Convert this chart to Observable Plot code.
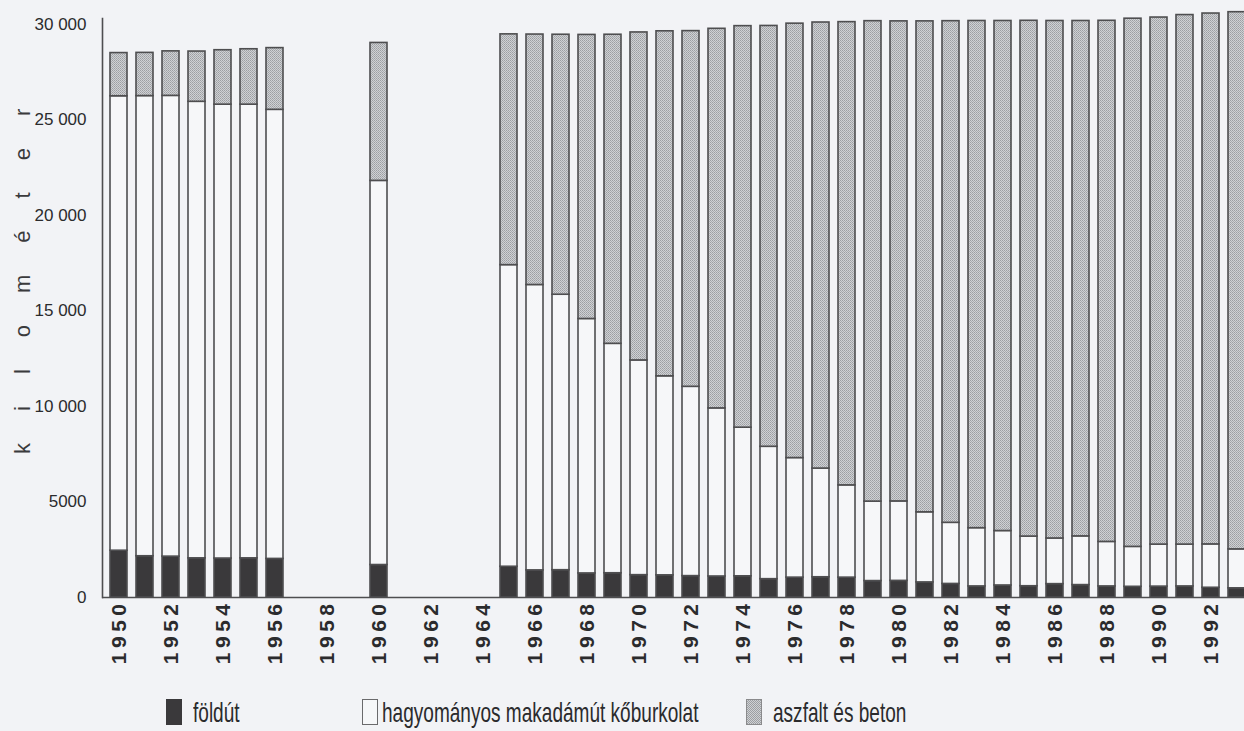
<!DOCTYPE html>
<html>
<head>
<meta charset="utf-8">
<script src="https://cdn.jsdelivr.net/npm/d3@7"></script>
<script src="https://cdn.jsdelivr.net/npm/@observablehq/plot@0.6"></script>
<style>
  html, body { margin: 0; padding: 0; background: #f2f3f6; overflow: hidden; }
  #chart svg { display: block; }
  #legend { position: relative; height: 46px; width: 1244px; font-family: "Liberation Sans", Arial, sans-serif; color: #2b2b2d; }
  .item { position: absolute; top: 14px; display: flex; align-items: flex-start; }
  .sw { width: 16px; height: 26px; box-sizing: border-box; flex: none; }
  .lab { display: inline-block; font-size: 28px; line-height: 26px; margin-top: 1px; transform: scaleX(0.68); transform-origin: left center; white-space: nowrap; }
</style>
</head>
<body>
<div id="chart"></div>
<div id="legend"></div>
<script>
// ---- data (km) ----
const years = [1950, 1951, 1952, 1953, 1954, 1955, 1956, 1960,
  1965, 1966, 1967, 1968, 1969, 1970, 1971, 1972, 1973, 1974, 1975, 1976, 1977, 1978, 1979,
  1980, 1981, 1982, 1983, 1984, 1985, 1986, 1987, 1988, 1989, 1990, 1991, 1992, 1993];
const foldut = [2450, 2160, 2140, 2050, 2040, 2050, 2020, 1700,
  1610, 1420, 1430, 1260, 1270, 1170, 1160, 1120, 1100, 1110, 960, 1040, 1060, 1040, 860,
  870, 790, 710, 580, 630, 590, 700, 650, 580, 560, 570, 580, 510, 480];
const makadam = [23790, 24090, 24120, 23900, 23760, 23750, 23510, 20110,
  15790, 14940, 14420, 13320, 12010, 11240, 10420, 9910, 8800, 7780, 6930, 6260, 5690, 4830, 4160,
  4160, 3670, 3200, 3050, 2850, 2600, 2390, 2550, 2330, 2090, 2200, 2190, 2270, 2040];
const aszfalt = [2260, 2260, 2330, 2630, 2850, 2900, 3230, 7220,
  12080, 13110, 13610, 14870, 16180, 17170, 18060, 18620, 19870, 21020, 22030, 22740, 23350, 24250, 25150,
  25130, 25700, 26260, 26550, 26700, 27000, 27090, 26980, 27280, 27650, 27590, 27720, 27790, 28120];
const categories = ["földút", "hagyományos makadámút kőburkolat", "aszfalt és beton"];
const yTicks = [0, 5000, 10000, 15000, 20000, 25000, 30000];
const yTickLabels = ["0", "5000", "10 000", "15 000", "20 000", "25 000", "30 000"];
const xTickYears = [1950, 1952, 1954, 1956, 1958, 1960, 1962, 1964, 1966, 1968, 1970,
  1972, 1974, 1976, 1978, 1980, 1982, 1984, 1986, 1988, 1990, 1992];
const yAxisTitle = "kilométer";

// ---- styles ----
const BG = "#f2f3f6";
const fills = ["#3a393b", "#f6f7f9", "url(#dots)"];
const STROKE = "#4e4e50";

const series = [foldut, makadam, aszfalt];
const rows = years.flatMap((yr, i) => categories.map((c, k) => ({year: yr, cat: c, value: series[k][i]})));
const allYears = d3.range(1950, 1994);

const svg = Plot.plot({
  width: 1253,
  height: 685,
  marginLeft: 102,
  marginRight: 0,
  marginTop: 18,
  marginBottom: 88,
  style: {background: BG, maxWidth: "none", fontFamily: "'Liberation Sans', Arial, sans-serif", color: "#2b2b2d", overflow: "visible"},
  x: {type: "band", domain: allYears, paddingInner: 0.35, paddingOuter: 0.175, axis: null},
  y: {domain: [0, 30310], axis: null},
  color: {domain: categories, range: fills},
  marks: [
    Plot.barY(rows, {x: "year", y: "value", fill: "cat", stroke: STROKE, strokeWidth: 1.6}),
    Plot.axisX({tickSize: 0, tickPadding: 2, tickRotate: -90, fontSize: 21, fontWeight: "bold",
      tickFormat: d => xTickYears.includes(d) ? String(d) : "", label: null}),
    Plot.axisY({ticks: yTicks, tickSize: 0, tickPadding: 16, fontSize: 17,
      tickFormat: d => yTickLabels[yTicks.indexOf(d)], label: null}),
    Plot.frame({anchor: "left", stroke: STROKE, strokeWidth: 1.6}),
    Plot.ruleY([0], {stroke: STROKE, strokeWidth: 1.6}),
    Plot.text([yAxisTitle], {frameAnchor: "left", textAnchor: "start", dx: -80, dy: 146, rotate: -90, fontSize: 22, fill: "#3a3a3c"})
  ]
});

// pattern for asphalt fill
const defs = d3.select(svg).insert("defs", ":first-child");
const pat = defs.append("pattern").attr("id", "dots").attr("patternUnits", "userSpaceOnUse")
  .attr("width", 2).attr("height", 2);
pat.append("rect").attr("width", 2).attr("height", 2).attr("fill", "#cfd1d4");
pat.append("rect").attr("width", 1).attr("height", 1).attr("fill", "#9c9ea2");
pat.append("rect").attr("x", 1).attr("y", 1).attr("width", 1).attr("height", 1).attr("fill", "#a9abaf");

// letter spacing for year labels and axis title
d3.select(svg).selectAll("text").each(function() {
  const t = this.textContent;
  if (t === yAxisTitle) d3.select(this).style("letter-spacing", "32px");
  else if (/^19\d\d$/.test(t)) d3.select(this).style("letter-spacing", "4.5px");
});

document.getElementById("chart").appendChild(svg);

// ---- legend ----
const legendLeft = [166, 362, 746];
const legendGap = [11, 4, 11];
const swatchStyles = [
  "background:#3a393b;",
  "background:#f6f7f9;border:1px solid #6a6a6c;",
  "background:repeating-conic-gradient(#9c9ea2 0 25%, #cfd1d4 0 50%) 0 0/2px 2px;border:1px solid #8a8a8c;"
];
const legend = document.getElementById("legend");
categories.forEach((c, k) => {
  const it = document.createElement("div");
  it.className = "item";
  it.style.left = legendLeft[k] + "px";
  it.innerHTML = `<div class="sw" style="${swatchStyles[k]}"></div><span class="lab" style="margin-left:${legendGap[k]}px">${c}</span>`;
  legend.appendChild(it);
});
</script>
</body>
</html>
